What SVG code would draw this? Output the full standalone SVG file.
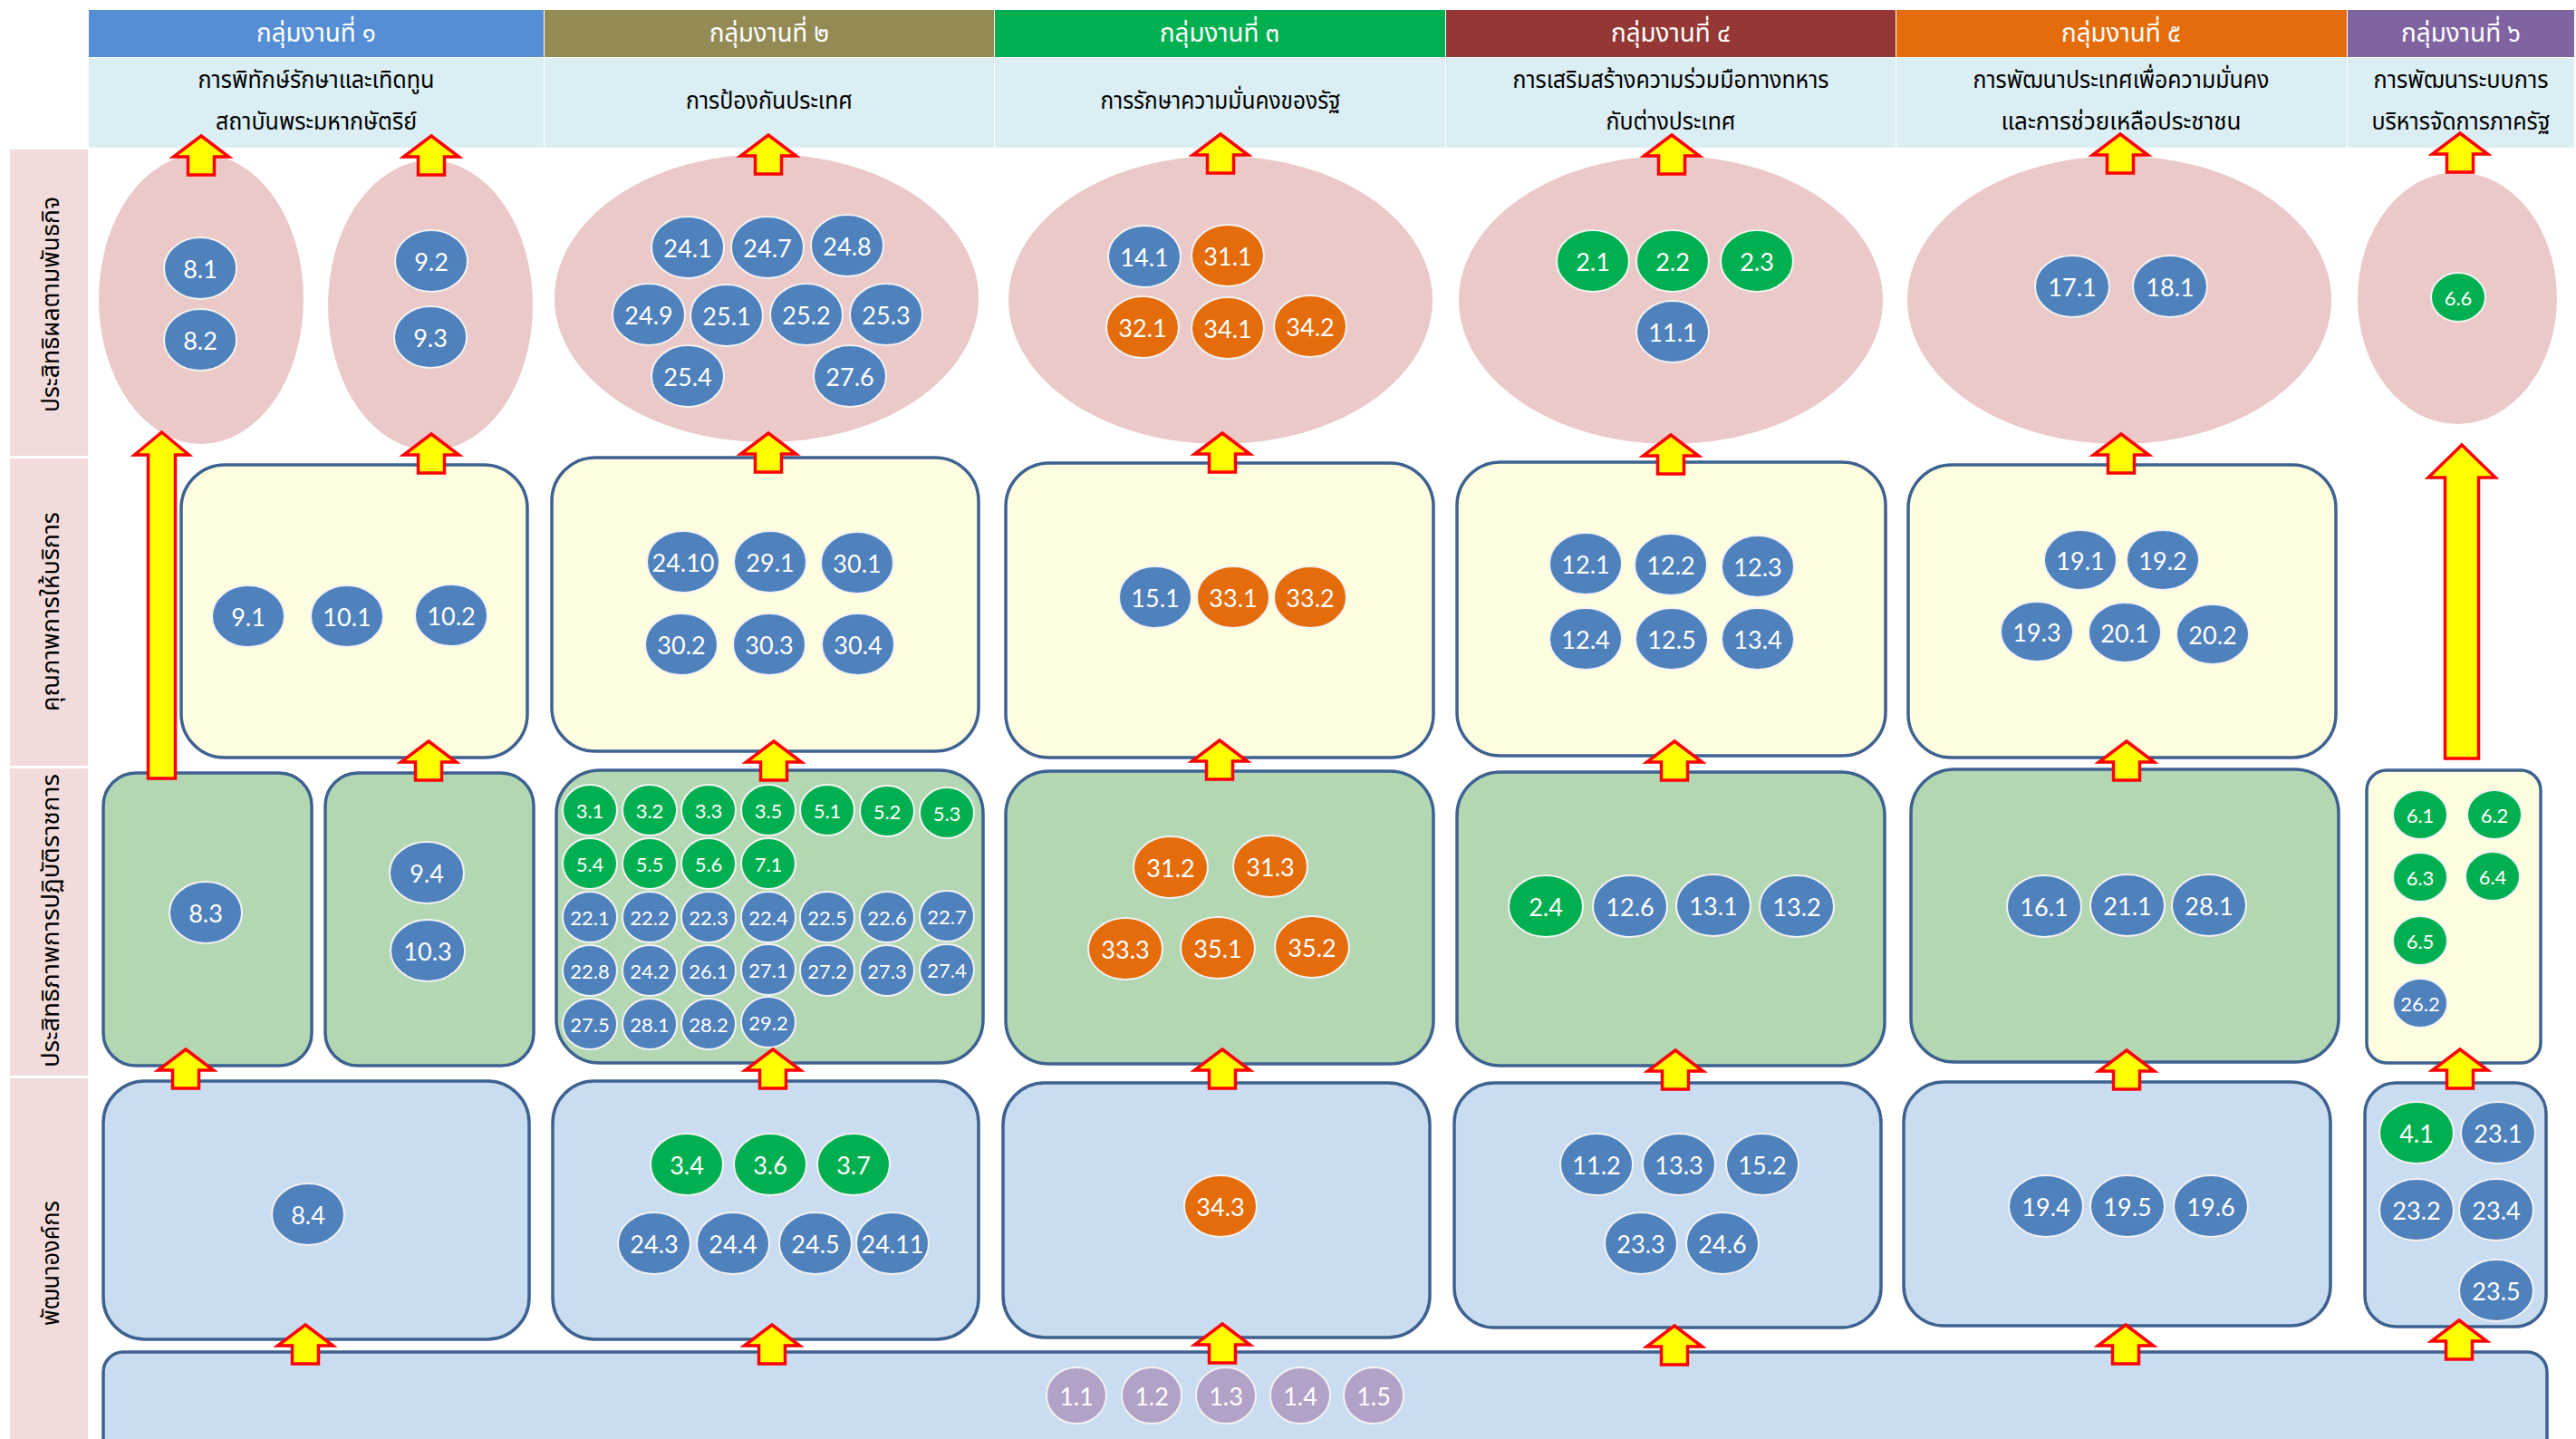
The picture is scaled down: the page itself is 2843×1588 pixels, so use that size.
<svg xmlns="http://www.w3.org/2000/svg" xmlns:xlink="http://www.w3.org/1999/xlink" width="2843" height="1588" viewBox="0 0 2843 1588">
<style>
.th{font-family:"Noto Sans Thai","Noto Sans Thai UI","Tahoma","Noto Sans","DejaVu Sans",sans-serif;text-anchor:middle}
.hdt{fill:#fff;font-size:28px}
.sub{fill:#000;font-size:26px}
.lab{fill:#000;font-size:26px;dominant-baseline:central}
.hd{stroke:none}
.subbg{fill:#DAEEF3}
.strip{fill:#F2DCDB}
.ell{fill:#EBC9C9}
.box{stroke:#3E6290;stroke-width:3.5}
.yel{fill:#FEFDE0}
.grn{fill:#B3D7B3}
.blu{fill:#CADCF0}
.bb{stroke:#F2F2F2;stroke-width:2}
.cb{fill:#4F81BD}.cg{fill:#00B050}.co{fill:#E46C0A}.cp{fill:#B3A2C7}
.bt{fill:#fff;font-family:Lato,"Liberation Sans",sans-serif;font-size:27px;text-anchor:middle;dominant-baseline:central}
.bs{font-size:22px}
.arr{fill:#FFFF00;stroke:#FF0000;stroke-width:3.5;stroke-linejoin:miter}
</style>
<defs>
<path id="aS" d="M0,0 L30.5,23 L14.5,23 L14.5,43 L-14.5,43 L-14.5,23 L-30.5,23 Z"/>
</defs>
<rect width="2843" height="1588" fill="#fff"/>

<g id="headers">
<rect class="hd" x="98" y="11" width="502" height="52" fill="#558ED5"/>
<rect class="hd" x="601" y="11" width="496" height="52" fill="#948A54"/>
<rect class="hd" x="1098" y="11" width="497" height="52" fill="#00B050"/>
<rect class="hd" x="1596" y="11" width="496" height="52" fill="#953735"/>
<rect class="hd" x="2093" y="11" width="497" height="52" fill="#E46C0A"/>
<rect class="hd" x="2591" y="11" width="250" height="52" fill="#8064A2"/>
<text class="th hdt" x="349" y="46" textLength="132" lengthAdjust="spacingAndGlyphs">กลุ่มงานที่ ๑</text>
<text class="th hdt" x="849" y="46" textLength="132" lengthAdjust="spacingAndGlyphs">กลุ่มงานที่ ๒</text>
<text class="th hdt" x="1346" y="46" textLength="132" lengthAdjust="spacingAndGlyphs">กลุ่มงานที่ ๓</text>
<text class="th hdt" x="1844" y="46" textLength="132" lengthAdjust="spacingAndGlyphs">กลุ่มงานที่ ๔</text>
<text class="th hdt" x="2341" y="46" textLength="132" lengthAdjust="spacingAndGlyphs">กลุ่มงานที่ ๕</text>
<text class="th hdt" x="2716" y="46" textLength="132" lengthAdjust="spacingAndGlyphs">กลุ่มงานที่ ๖</text>
<rect class="subbg" x="98" y="64" width="502" height="99"/>
<rect class="subbg" x="601" y="64" width="496" height="99"/>
<rect class="subbg" x="1098" y="64" width="497" height="99"/>
<rect class="subbg" x="1596" y="64" width="496" height="99"/>
<rect class="subbg" x="2093" y="64" width="497" height="99"/>
<rect class="subbg" x="2591" y="64" width="250" height="99"/>
<text class="th sub" x="349" y="97" textLength="261" lengthAdjust="spacingAndGlyphs">การพิทักษ์รักษาและเทิดทูน</text>
<text class="th sub" x="349" y="143" textLength="222" lengthAdjust="spacingAndGlyphs">สถาบันพระมหากษัตริย์</text>
<text class="th sub" x="849" y="120" textLength="184" lengthAdjust="spacingAndGlyphs">การป้องกันประเทศ</text>
<text class="th sub" x="1347" y="120" textLength="265" lengthAdjust="spacingAndGlyphs">การรักษาความมั่นคงของรัฐ</text>
<text class="th sub" x="1844" y="97" textLength="349" lengthAdjust="spacingAndGlyphs">การเสริมสร้างความร่วมมือทางทหาร</text>
<text class="th sub" x="1844" y="143" textLength="143" lengthAdjust="spacingAndGlyphs">กับต่างประเทศ</text>
<text class="th sub" x="2341" y="97" textLength="327" lengthAdjust="spacingAndGlyphs">การพัฒนาประเทศเพื่อความมั่นคง</text>
<text class="th sub" x="2341" y="143" textLength="265" lengthAdjust="spacingAndGlyphs">และการช่วยเหลือประชาชน</text>
<text class="th sub" x="2716" y="97" textLength="193" lengthAdjust="spacingAndGlyphs">การพัฒนาระบบการ</text>
<text class="th sub" x="2716" y="143" textLength="197" lengthAdjust="spacingAndGlyphs">บริหารจัดการภาครัฐ</text>
</g>

<g id="row-labels">
<rect class="strip" x="11" y="165" width="86" height="338"/>
<rect class="strip" x="11" y="506" width="86" height="339"/>
<rect class="strip" x="11" y="848" width="86" height="339"/>
<rect class="strip" x="11" y="1190" width="86" height="398"/>
<text class="th lab" transform="translate(57,336) rotate(-90)" textLength="238" lengthAdjust="spacingAndGlyphs">ประสิทธิผลตามพันธกิจ</text>
<text class="th lab" transform="translate(57,675) rotate(-90)" textLength="220" lengthAdjust="spacingAndGlyphs">คุณภาพการให้บริการ</text>
<text class="th lab" transform="translate(57,1016) rotate(-90)" textLength="324" lengthAdjust="spacingAndGlyphs">ประสิทธิภาพการปฏิบัติราชการ</text>
<text class="th lab" transform="translate(57,1394) rotate(-90)" textLength="138" lengthAdjust="spacingAndGlyphs">พัฒนาองค์กร</text>
</g>

<!-- Row 1 ellipses -->
<g id="r1c1a"><ellipse class="ell" cx="222" cy="330" rx="113" ry="160"/>
<g id="n8-1"><ellipse class="bb cb" cx="221" cy="296" rx="40" ry="34"/><text class="bt" x="221" y="296">8.1</text></g>
<g id="n8-2"><ellipse class="bb cb" cx="221" cy="375" rx="40" ry="34"/><text class="bt" x="221" y="375">8.2</text></g></g>
<g id="r1c1b"><ellipse class="ell" cx="475" cy="337" rx="113" ry="160"/>
<g id="n9-2"><ellipse class="bb cb" cx="476" cy="288" rx="40" ry="34"/><text class="bt" x="476" y="288">9.2</text></g>
<g id="n9-3"><ellipse class="bb cb" cx="475" cy="372" rx="40" ry="34"/><text class="bt" x="475" y="372">9.3</text></g></g>
<g id="r1c2"><ellipse class="ell" cx="846" cy="329" rx="234" ry="159"/>
<g id="n24-1"><ellipse class="bb cb" cx="759" cy="273" rx="40" ry="34"/><text class="bt" x="759" y="273">24.1</text></g>
<g id="n24-7"><ellipse class="bb cb" cx="847" cy="273" rx="40" ry="34"/><text class="bt" x="847" y="273">24.7</text></g>
<g id="n24-8"><ellipse class="bb cb" cx="935" cy="271" rx="40" ry="34"/><text class="bt" x="935" y="271">24.8</text></g>
<g id="n24-9"><ellipse class="bb cb" cx="716" cy="347" rx="40" ry="34"/><text class="bt" x="716" y="347">24.9</text></g>
<g id="n25-1"><ellipse class="bb cb" cx="802" cy="348" rx="40" ry="34"/><text class="bt" x="802" y="348">25.1</text></g>
<g id="n25-2"><ellipse class="bb cb" cx="890" cy="347" rx="40" ry="34"/><text class="bt" x="890" y="347">25.2</text></g>
<g id="n25-3"><ellipse class="bb cb" cx="978" cy="347" rx="40" ry="34"/><text class="bt" x="978" y="347">25.3</text></g>
<g id="n25-4"><ellipse class="bb cb" cx="759" cy="415" rx="40" ry="34"/><text class="bt" x="759" y="415">25.4</text></g>
<g id="n27-6"><ellipse class="bb cb" cx="938" cy="415" rx="40" ry="34"/><text class="bt" x="938" y="415">27.6</text></g></g>
<g id="r1c3"><ellipse class="ell" cx="1347" cy="331" rx="234" ry="159"/>
<g id="n14-1"><ellipse class="bb cb" cx="1263" cy="283" rx="40" ry="34"/><text class="bt" x="1263" y="283">14.1</text></g>
<g id="n31-1"><ellipse class="bb co" cx="1355" cy="282" rx="40" ry="34"/><text class="bt" x="1355" y="282">31.1</text></g>
<g id="n32-1"><ellipse class="bb co" cx="1261" cy="361" rx="40" ry="34"/><text class="bt" x="1261" y="361">32.1</text></g>
<g id="n34-1"><ellipse class="bb co" cx="1355" cy="362" rx="40" ry="34"/><text class="bt" x="1355" y="362">34.1</text></g>
<g id="n34-2"><ellipse class="bb co" cx="1446" cy="360" rx="40" ry="34"/><text class="bt" x="1446" y="360">34.2</text></g></g>
<g id="r1c4"><ellipse class="ell" cx="1844" cy="331" rx="234" ry="159"/>
<g id="n2-1"><ellipse class="bb cg" cx="1758" cy="288" rx="40" ry="34"/><text class="bt" x="1758" y="288">2.1</text></g>
<g id="n2-2"><ellipse class="bb cg" cx="1846" cy="288" rx="40" ry="34"/><text class="bt" x="1846" y="288">2.2</text></g>
<g id="n2-3"><ellipse class="bb cg" cx="1939" cy="288" rx="40" ry="34"/><text class="bt" x="1939" y="288">2.3</text></g>
<g id="n11-1"><ellipse class="bb cb" cx="1846" cy="366" rx="40" ry="34"/><text class="bt" x="1846" y="366">11.1</text></g></g>
<g id="r1c5"><ellipse class="ell" cx="2339" cy="331" rx="234" ry="159"/>
<g id="n17-1"><ellipse class="bb cb" cx="2287" cy="316" rx="41" ry="34"/><text class="bt" x="2287" y="316">17.1</text></g>
<g id="n18-1"><ellipse class="bb cb" cx="2395" cy="316" rx="41" ry="34"/><text class="bt" x="2395" y="316">18.1</text></g></g>
<g id="r1c6"><ellipse class="ell" cx="2712" cy="329" rx="110" ry="139"/>
<g id="n6-6"><ellipse class="bb cg" cx="2713" cy="328" rx="30" ry="27"/><text class="bt bs" x="2713" y="328">6.6</text></g></g>

<!-- Row 2 boxes -->
<g id="r2c1"><rect class="box yel" x="200" y="513" width="382" height="323" rx="48"/>
<g id="n9-1"><ellipse class="bb cb" cx="274" cy="680" rx="40" ry="34"/><text class="bt" x="274" y="680">9.1</text></g>
<g id="n10-1"><ellipse class="bb cb" cx="383" cy="680" rx="40" ry="34"/><text class="bt" x="383" y="680">10.1</text></g>
<g id="n10-2"><ellipse class="bb cb" cx="498" cy="679" rx="40" ry="34"/><text class="bt" x="498" y="679">10.2</text></g></g>
<g id="r2c2"><rect class="box yel" x="609" y="505" width="471" height="324" rx="48"/>
<g id="n24-10"><ellipse class="bb cb" cx="754" cy="620" rx="40" ry="34"/><text class="bt" x="754" y="620">24.10</text></g>
<g id="n29-1"><ellipse class="bb cb" cx="850" cy="620" rx="40" ry="34"/><text class="bt" x="850" y="620">29.1</text></g>
<g id="n30-1"><ellipse class="bb cb" cx="946" cy="621" rx="40" ry="34"/><text class="bt" x="946" y="621">30.1</text></g>
<g id="n30-2"><ellipse class="bb cb" cx="752" cy="711" rx="40" ry="34"/><text class="bt" x="752" y="711">30.2</text></g>
<g id="n30-3"><ellipse class="bb cb" cx="849" cy="711" rx="40" ry="34"/><text class="bt" x="849" y="711">30.3</text></g>
<g id="n30-4"><ellipse class="bb cb" cx="947" cy="711" rx="40" ry="34"/><text class="bt" x="947" y="711">30.4</text></g></g>
<g id="r2c3"><rect class="box yel" x="1110" y="511" width="472" height="325" rx="48"/>
<g id="n15-1"><ellipse class="bb cb" cx="1275" cy="659" rx="40" ry="34"/><text class="bt" x="1275" y="659">15.1</text></g>
<g id="n33-1"><ellipse class="bb co" cx="1361" cy="659" rx="40" ry="34"/><text class="bt" x="1361" y="659">33.1</text></g>
<g id="n33-2"><ellipse class="bb co" cx="1446" cy="659" rx="40" ry="34"/><text class="bt" x="1446" y="659">33.2</text></g></g>
<g id="r2c4"><rect class="box yel" x="1608" y="510" width="473" height="324" rx="48"/>
<g id="n12-1"><ellipse class="bb cb" cx="1750" cy="622" rx="40" ry="34"/><text class="bt" x="1750" y="622">12.1</text></g>
<g id="n12-2"><ellipse class="bb cb" cx="1844" cy="623" rx="40" ry="34"/><text class="bt" x="1844" y="623">12.2</text></g>
<g id="n12-3"><ellipse class="bb cb" cx="1940" cy="625" rx="40" ry="34"/><text class="bt" x="1940" y="625">12.3</text></g>
<g id="n12-4"><ellipse class="bb cb" cx="1750" cy="705" rx="40" ry="34"/><text class="bt" x="1750" y="705">12.4</text></g>
<g id="n12-5"><ellipse class="bb cb" cx="1845" cy="705" rx="40" ry="34"/><text class="bt" x="1845" y="705">12.5</text></g>
<g id="n13-4"><ellipse class="bb cb" cx="1940" cy="705" rx="40" ry="34"/><text class="bt" x="1940" y="705">13.4</text></g></g>
<g id="r2c5"><rect class="box yel" x="2106" y="513" width="472" height="323" rx="48"/>
<g id="n19-1"><ellipse class="bb cb" cx="2296" cy="618" rx="40" ry="33"/><text class="bt" x="2296" y="618">19.1</text></g>
<g id="n19-2"><ellipse class="bb cb" cx="2387" cy="618" rx="40" ry="33"/><text class="bt" x="2387" y="618">19.2</text></g>
<g id="n19-3"><ellipse class="bb cb" cx="2248" cy="697" rx="40" ry="33"/><text class="bt" x="2248" y="697">19.3</text></g>
<g id="n20-1"><ellipse class="bb cb" cx="2345" cy="698" rx="40" ry="33"/><text class="bt" x="2345" y="698">20.1</text></g>
<g id="n20-2"><ellipse class="bb cb" cx="2442" cy="700" rx="40" ry="33"/><text class="bt" x="2442" y="700">20.2</text></g></g>

<!-- Row 3 boxes -->
<g id="r3c1a"><rect class="box grn" x="114" y="853" width="230" height="323" rx="36"/>
<g id="n8-3"><ellipse class="bb cb" cx="227" cy="1007" rx="40" ry="34"/><text class="bt" x="227" y="1007">8.3</text></g></g>
<g id="r3c1b"><rect class="box grn" x="359" y="853" width="230" height="323" rx="36"/>
<g id="n9-4"><ellipse class="bb cb" cx="471" cy="963" rx="41" ry="34"/><text class="bt" x="471" y="963">9.4</text></g>
<g id="n10-3"><ellipse class="bb cb" cx="472" cy="1049" rx="41" ry="34"/><text class="bt" x="472" y="1049">10.3</text></g></g>
<g id="r3c2"><rect class="box grn" x="614" y="850" width="471" height="323" rx="48"/>
<g id="n3-1"><ellipse class="bb cg" cx="651" cy="894" rx="30" ry="28"/><text class="bt bs" x="651" y="894">3.1</text></g>
<g id="n3-2"><ellipse class="bb cg" cx="717" cy="894" rx="30" ry="28"/><text class="bt bs" x="717" y="894">3.2</text></g>
<g id="n3-3"><ellipse class="bb cg" cx="782" cy="894" rx="30" ry="28"/><text class="bt bs" x="782" y="894">3.3</text></g>
<g id="n3-5"><ellipse class="bb cg" cx="848" cy="894" rx="30" ry="28"/><text class="bt bs" x="848" y="894">3.5</text></g>
<g id="n5-1"><ellipse class="bb cg" cx="913" cy="894" rx="30" ry="28"/><text class="bt bs" x="913" y="894">5.1</text></g>
<g id="n5-2"><ellipse class="bb cg" cx="979" cy="895" rx="30" ry="28"/><text class="bt bs" x="979" y="895">5.2</text></g>
<g id="n5-3"><ellipse class="bb cg" cx="1045" cy="897" rx="30" ry="28"/><text class="bt bs" x="1045" y="897">5.3</text></g>
<g id="n5-4"><ellipse class="bb cg" cx="651" cy="953" rx="30" ry="28"/><text class="bt bs" x="651" y="953">5.4</text></g>
<g id="n5-5"><ellipse class="bb cg" cx="717" cy="953" rx="30" ry="28"/><text class="bt bs" x="717" y="953">5.5</text></g>
<g id="n5-6"><ellipse class="bb cg" cx="782" cy="953" rx="30" ry="28"/><text class="bt bs" x="782" y="953">5.6</text></g>
<g id="n7-1"><ellipse class="bb cg" cx="848" cy="953" rx="30" ry="28"/><text class="bt bs" x="848" y="953">7.1</text></g>
<g id="n22-1"><ellipse class="bb cb" cx="651" cy="1012" rx="30" ry="28"/><text class="bt bs" x="651" y="1012">22.1</text></g>
<g id="n22-2"><ellipse class="bb cb" cx="717" cy="1012" rx="30" ry="28"/><text class="bt bs" x="717" y="1012">22.2</text></g>
<g id="n22-3"><ellipse class="bb cb" cx="782" cy="1012" rx="30" ry="28"/><text class="bt bs" x="782" y="1012">22.3</text></g>
<g id="n22-4"><ellipse class="bb cb" cx="848" cy="1012" rx="30" ry="28"/><text class="bt bs" x="848" y="1012">22.4</text></g>
<g id="n22-5"><ellipse class="bb cb" cx="913" cy="1012" rx="30" ry="28"/><text class="bt bs" x="913" y="1012">22.5</text></g>
<g id="n22-6"><ellipse class="bb cb" cx="979" cy="1012" rx="30" ry="28"/><text class="bt bs" x="979" y="1012">22.6</text></g>
<g id="n22-7"><ellipse class="bb cb" cx="1045" cy="1011" rx="30" ry="28"/><text class="bt bs" x="1045" y="1011">22.7</text></g>
<g id="n22-8"><ellipse class="bb cb" cx="651" cy="1071" rx="30" ry="28"/><text class="bt bs" x="651" y="1071">22.8</text></g>
<g id="n24-2"><ellipse class="bb cb" cx="717" cy="1071" rx="30" ry="28"/><text class="bt bs" x="717" y="1071">24.2</text></g>
<g id="n26-1"><ellipse class="bb cb" cx="782" cy="1071" rx="30" ry="28"/><text class="bt bs" x="782" y="1071">26.1</text></g>
<g id="n27-1"><ellipse class="bb cb" cx="848" cy="1070" rx="30" ry="28"/><text class="bt bs" x="848" y="1070">27.1</text></g>
<g id="n27-2"><ellipse class="bb cb" cx="913" cy="1071" rx="30" ry="28"/><text class="bt bs" x="913" y="1071">27.2</text></g>
<g id="n27-3"><ellipse class="bb cb" cx="979" cy="1071" rx="30" ry="28"/><text class="bt bs" x="979" y="1071">27.3</text></g>
<g id="n27-4"><ellipse class="bb cb" cx="1045" cy="1070" rx="30" ry="28"/><text class="bt bs" x="1045" y="1070">27.4</text></g>
<g id="n27-5"><ellipse class="bb cb" cx="651" cy="1130" rx="30" ry="28"/><text class="bt bs" x="651" y="1130">27.5</text></g>
<g id="n28-1"><ellipse class="bb cb" cx="717" cy="1130" rx="30" ry="28"/><text class="bt bs" x="717" y="1130">28.1</text></g>
<g id="n28-2"><ellipse class="bb cb" cx="782" cy="1130" rx="30" ry="28"/><text class="bt bs" x="782" y="1130">28.2</text></g>
<g id="n29-2"><ellipse class="bb cb" cx="848" cy="1128" rx="30" ry="28"/><text class="bt bs" x="848" y="1128">29.2</text></g></g>
<g id="r3c3"><rect class="box grn" x="1110" y="851" width="472" height="323" rx="48"/>
<g id="n31-2"><ellipse class="bb co" cx="1292" cy="957" rx="41" ry="34"/><text class="bt" x="1292" y="957">31.2</text></g>
<g id="n31-3"><ellipse class="bb co" cx="1402" cy="956" rx="41" ry="34"/><text class="bt" x="1402" y="956">31.3</text></g>
<g id="n33-3"><ellipse class="bb co" cx="1242" cy="1047" rx="41" ry="34"/><text class="bt" x="1242" y="1047">33.3</text></g>
<g id="n35-1"><ellipse class="bb co" cx="1344" cy="1046" rx="41" ry="34"/><text class="bt" x="1344" y="1046">35.1</text></g>
<g id="n35-2"><ellipse class="bb co" cx="1448" cy="1045" rx="41" ry="34"/><text class="bt" x="1448" y="1045">35.2</text></g></g>
<g id="r3c4"><rect class="box grn" x="1608" y="852" width="472" height="324" rx="48"/>
<g id="n2-4"><ellipse class="bb cg" cx="1706" cy="1000" rx="41" ry="34"/><text class="bt" x="1706" y="1000">2.4</text></g>
<g id="n12-6"><ellipse class="bb cb" cx="1799" cy="1000" rx="41" ry="34"/><text class="bt" x="1799" y="1000">12.6</text></g>
<g id="n13-1"><ellipse class="bb cb" cx="1891" cy="999" rx="41" ry="34"/><text class="bt" x="1891" y="999">13.1</text></g>
<g id="n13-2"><ellipse class="bb cb" cx="1983" cy="1000" rx="41" ry="34"/><text class="bt" x="1983" y="1000">13.2</text></g></g>
<g id="r3c5"><rect class="box grn" x="2109" y="849" width="472" height="323" rx="48"/>
<g id="n16-1"><ellipse class="bb cb" cx="2256" cy="1000" rx="41" ry="34"/><text class="bt" x="2256" y="1000">16.1</text></g>
<g id="n21-1"><ellipse class="bb cb" cx="2348" cy="999" rx="41" ry="34"/><text class="bt" x="2348" y="999">21.1</text></g>
<g id="n28-1b"><ellipse class="bb cb" cx="2438" cy="999" rx="41" ry="34"/><text class="bt" x="2438" y="999">28.1</text></g></g>
<g id="r3c6"><rect class="box yel" x="2612" y="850" width="192" height="323" rx="22"/>
<g id="n6-1"><ellipse class="bb cg" cx="2671" cy="899" rx="30" ry="27"/><text class="bt bs" x="2671" y="899">6.1</text></g>
<g id="n6-2"><ellipse class="bb cg" cx="2753" cy="899" rx="30" ry="27"/><text class="bt bs" x="2753" y="899">6.2</text></g>
<g id="n6-3"><ellipse class="bb cg" cx="2671" cy="968" rx="30" ry="27"/><text class="bt bs" x="2671" y="968">6.3</text></g>
<g id="n6-4"><ellipse class="bb cg" cx="2751" cy="967" rx="30" ry="27"/><text class="bt bs" x="2751" y="967">6.4</text></g>
<g id="n6-5"><ellipse class="bb cg" cx="2671" cy="1038" rx="30" ry="27"/><text class="bt bs" x="2671" y="1038">6.5</text></g>
<g id="n26-2"><ellipse class="bb cb" cx="2671" cy="1107" rx="30" ry="27"/><text class="bt bs" x="2671" y="1107">26.2</text></g></g>

<!-- Row 4 boxes -->
<g id="r4c1"><rect class="box blu" x="114" y="1193" width="470" height="285" rx="46"/>
<g id="n8-4"><ellipse class="bb cb" cx="340" cy="1340" rx="40" ry="34"/><text class="bt" x="340" y="1340">8.4</text></g></g>
<g id="r4c2"><rect class="box blu" x="610" y="1193" width="470" height="285" rx="46"/>
<g id="n3-4"><ellipse class="bb cg" cx="758" cy="1285" rx="40" ry="34"/><text class="bt" x="758" y="1285">3.4</text></g>
<g id="n3-6"><ellipse class="bb cg" cx="850" cy="1285" rx="40" ry="34"/><text class="bt" x="850" y="1285">3.6</text></g>
<g id="n3-7"><ellipse class="bb cg" cx="942" cy="1285" rx="40" ry="34"/><text class="bt" x="942" y="1285">3.7</text></g>
<g id="n24-3"><ellipse class="bb cb" cx="722" cy="1372" rx="40" ry="34"/><text class="bt" x="722" y="1372">24.3</text></g>
<g id="n24-4"><ellipse class="bb cb" cx="809" cy="1372" rx="40" ry="34"/><text class="bt" x="809" y="1372">24.4</text></g>
<g id="n24-5"><ellipse class="bb cb" cx="900" cy="1372" rx="40" ry="34"/><text class="bt" x="900" y="1372">24.5</text></g>
<g id="n24-11"><ellipse class="bb cb" cx="985" cy="1372" rx="40" ry="34"/><text class="bt" x="985" y="1372">24.11</text></g></g>
<g id="r4c3"><rect class="box blu" x="1107" y="1195" width="471" height="281" rx="46"/>
<g id="n34-3"><ellipse class="bb co" cx="1347" cy="1331" rx="40" ry="34"/><text class="bt" x="1347" y="1331">34.3</text></g></g>
<g id="r4c4"><rect class="box blu" x="1605" y="1195" width="471" height="270" rx="44"/>
<g id="n11-2"><ellipse class="bb cb" cx="1762" cy="1285" rx="40" ry="34"/><text class="bt" x="1762" y="1285">11.2</text></g>
<g id="n13-3"><ellipse class="bb cb" cx="1853" cy="1285" rx="40" ry="34"/><text class="bt" x="1853" y="1285">13.3</text></g>
<g id="n15-2"><ellipse class="bb cb" cx="1945" cy="1285" rx="40" ry="34"/><text class="bt" x="1945" y="1285">15.2</text></g>
<g id="n23-3"><ellipse class="bb cb" cx="1811" cy="1372" rx="40" ry="34"/><text class="bt" x="1811" y="1372">23.3</text></g>
<g id="n24-6"><ellipse class="bb cb" cx="1901" cy="1372" rx="40" ry="34"/><text class="bt" x="1901" y="1372">24.6</text></g></g>
<g id="r4c5"><rect class="box blu" x="2101" y="1194" width="471" height="269" rx="44"/>
<g id="n19-4"><ellipse class="bb cb" cx="2258" cy="1331" rx="41" ry="34"/><text class="bt" x="2258" y="1331">19.4</text></g>
<g id="n19-5"><ellipse class="bb cb" cx="2348" cy="1331" rx="41" ry="34"/><text class="bt" x="2348" y="1331">19.5</text></g>
<g id="n19-6"><ellipse class="bb cb" cx="2440" cy="1331" rx="41" ry="34"/><text class="bt" x="2440" y="1331">19.6</text></g></g>
<g id="r4c6"><rect class="box blu" x="2610" y="1195" width="200" height="269" rx="34"/>
<g id="n4-1"><ellipse class="bb cg" cx="2667" cy="1250" rx="41" ry="34"/><text class="bt" x="2667" y="1250">4.1</text></g>
<g id="n23-1"><ellipse class="bb cb" cx="2757" cy="1250" rx="41" ry="34"/><text class="bt" x="2757" y="1250">23.1</text></g>
<g id="n23-2"><ellipse class="bb cb" cx="2667" cy="1335" rx="41" ry="34"/><text class="bt" x="2667" y="1335">23.2</text></g>
<g id="n23-4"><ellipse class="bb cb" cx="2755" cy="1335" rx="41" ry="34"/><text class="bt" x="2755" y="1335">23.4</text></g>
<g id="n23-5"><ellipse class="bb cb" cx="2755" cy="1424" rx="41" ry="34"/><text class="bt" x="2755" y="1424">23.5</text></g></g>

<!-- Base -->
<g id="base"><rect class="box blu" x="114" y="1492" width="2697" height="140" rx="22"/>
<g id="n1-1"><ellipse class="bb cp" cx="1188" cy="1540" rx="33" ry="31"/><text class="bt" x="1188" y="1540">1.1</text></g>
<g id="n1-2"><ellipse class="bb cp" cx="1271" cy="1540" rx="33" ry="31"/><text class="bt" x="1271" y="1540">1.2</text></g>
<g id="n1-3"><ellipse class="bb cp" cx="1353" cy="1540" rx="33" ry="31"/><text class="bt" x="1353" y="1540">1.3</text></g>
<g id="n1-4"><ellipse class="bb cp" cx="1435" cy="1540" rx="33" ry="31"/><text class="bt" x="1435" y="1540">1.4</text></g>
<g id="n1-5"><ellipse class="bb cp" cx="1516" cy="1540" rx="33" ry="31"/><text class="bt" x="1516" y="1540">1.5</text></g></g>

<g id="connectors" class="arr">
<use xlink:href="#aS" href="#aS" x="222" y="150"/>
<use xlink:href="#aS" href="#aS" x="476" y="150"/>
<use xlink:href="#aS" href="#aS" x="848" y="149"/>
<use xlink:href="#aS" href="#aS" x="1347" y="148"/>
<use xlink:href="#aS" href="#aS" x="1845" y="149"/>
<use xlink:href="#aS" href="#aS" x="2340" y="148"/>
<use xlink:href="#aS" href="#aS" x="2715" y="147"/>
<use xlink:href="#aS" href="#aS" x="476" y="479"/>
<use xlink:href="#aS" href="#aS" x="848" y="478"/>
<use xlink:href="#aS" href="#aS" x="1349" y="478"/>
<use xlink:href="#aS" href="#aS" x="1844" y="480"/>
<use xlink:href="#aS" href="#aS" x="2341" y="479"/>
<use xlink:href="#aS" href="#aS" x="473" y="818"/>
<use xlink:href="#aS" href="#aS" x="854" y="818"/>
<use xlink:href="#aS" href="#aS" x="1346" y="817"/>
<use xlink:href="#aS" href="#aS" x="1848" y="818"/>
<use xlink:href="#aS" href="#aS" x="2347" y="818"/>
<use xlink:href="#aS" href="#aS" x="205" y="1158"/>
<use xlink:href="#aS" href="#aS" x="853" y="1158"/>
<use xlink:href="#aS" href="#aS" x="1349" y="1158"/>
<use xlink:href="#aS" href="#aS" x="1849" y="1159"/>
<use xlink:href="#aS" href="#aS" x="2347" y="1159"/>
<use xlink:href="#aS" href="#aS" x="2715" y="1158"/>
<use xlink:href="#aS" href="#aS" x="337" y="1462"/>
<use xlink:href="#aS" href="#aS" x="852" y="1462"/>
<use xlink:href="#aS" href="#aS" x="1349" y="1461"/>
<use xlink:href="#aS" href="#aS" x="1848" y="1463"/>
<use xlink:href="#aS" href="#aS" x="2346" y="1462"/>
<use xlink:href="#aS" href="#aS" x="2714" y="1457"/>
<path d="M178.5,477 L208.5,502 L193.5,502 L193.5,859 L163.5,859 L163.5,502 L148.5,502 Z"/>
<path d="M2717,491 L2754,527 L2735.5,527 L2735.5,837 L2698.5,837 L2698.5,527 L2680,527 Z"/>
</g>
</svg>
